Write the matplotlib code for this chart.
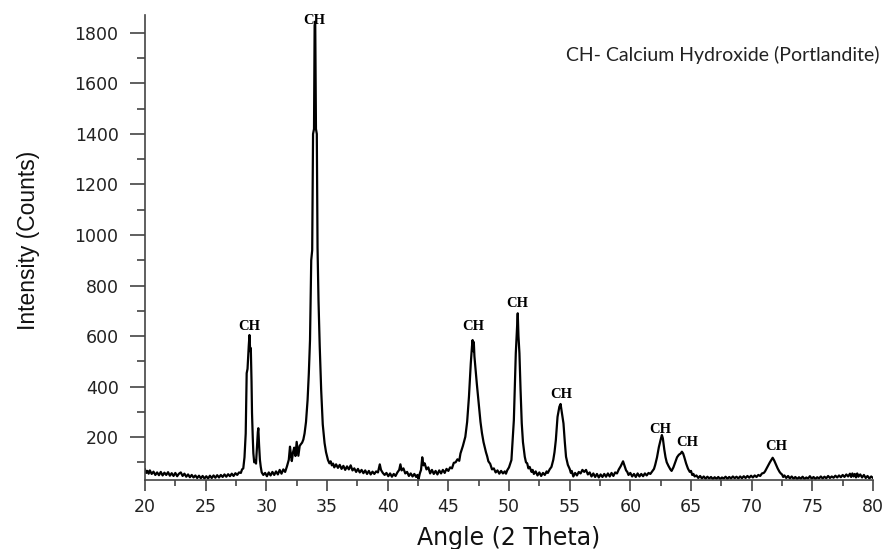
import matplotlib.pyplot as plt
from matplotlib.ticker import MultipleLocator
import numpy as np

plt.rcParams['font.family'] = ['DejaVu Sans']

# (2 theta, counts), region by region
bg_20_28 = [(20.0, 72), (20.1, 58), (20.2, 66), (20.3, 55), (20.4, 68), (20.55, 54), (20.7, 63),
            (20.85, 50), (21.0, 60), (21.15, 49), (21.3, 62), (21.45, 48), (21.6, 59), (21.75, 50),
            (21.9, 61), (22.05, 47), (22.2, 57), (22.35, 46), (22.5, 58), (22.65, 45), (22.8, 55),
            (22.95, 60), (23.1, 46), (23.25, 55), (23.4, 43), (23.55, 52), (23.7, 41), (23.85, 50),
            (24.0, 40), (24.15, 48), (24.3, 38), (24.45, 47), (24.6, 37), (24.75, 46), (24.9, 36),
            (25.05, 45), (25.2, 36), (25.35, 47), (25.5, 38), (25.65, 48), (25.8, 39), (25.95, 49),
            (26.1, 40), (26.25, 50), (26.4, 42), (26.55, 52), (26.7, 43), (26.85, 53), (27.0, 45),
            (27.15, 55), (27.3, 46), (27.45, 57), (27.6, 50), (27.75, 60), (27.9, 58), (28.0, 72)]
peak_29 = [(28.1, 76), (28.2, 120), (28.3, 214), (28.38, 453), (28.45, 470), (28.55, 560),
           (28.61, 604), (28.67, 540), (28.72, 552), (28.78, 420), (28.82, 295), (28.88, 200),
           (28.93, 136), (29.0, 100), (29.07, 109), (29.15, 95), (29.22, 150), (29.3, 220),
           (29.34, 235), (29.4, 170), (29.47, 110), (29.54, 82), (29.62, 60), (29.75, 50)]
bg_30_33 = [(29.9, 58), (30.05, 45), (30.2, 60), (30.35, 48), (30.5, 62), (30.65, 50), (30.8, 64),
            (30.95, 52), (31.1, 70), (31.25, 55), (31.4, 72), (31.55, 62), (31.7, 84), (31.85, 110),
            (31.95, 162), (32.05, 120), (32.1, 105), (32.2, 140), (32.3, 158), (32.4, 125),
            (32.5, 181), (32.58, 150), (32.64, 126), (32.75, 165), (32.85, 172), (32.95, 178),
            (33.05, 190)]
peak_34 = [(33.15, 214), (33.27, 260), (33.4, 347), (33.5, 450), (33.6, 584), (33.7, 900),
           (33.78, 940), (33.85, 1400), (33.93, 1420), (33.98, 1830), (34.03, 1845), (34.09, 1420),
           (34.16, 1400), (34.22, 950), (34.3, 740), (34.4, 560), (34.52, 386), (34.65, 250),
           (34.8, 176), (34.92, 140), (35.08, 109), (35.2, 96), (35.3, 104), (35.4, 88), (35.5, 95)]
bg_36_46 = [(35.6, 80), (35.75, 92), (35.9, 78), (36.05, 90), (36.2, 74), (36.35, 86), (36.5, 70),
            (36.65, 84), (36.8, 72), (36.95, 88), (37.1, 68), (37.25, 76), (37.4, 62), (37.55, 74),
            (37.7, 60), (37.85, 70), (38.0, 57), (38.15, 68), (38.3, 54), (38.45, 66), (38.6, 52),
            (38.75, 63), (38.9, 54), (39.05, 64), (39.2, 60), (39.35, 92), (39.45, 70), (39.6, 58),
            (39.75, 50), (39.9, 58), (40.05, 45), (40.2, 56), (40.35, 43), (40.5, 54), (40.65, 46),
            (40.8, 60), (40.95, 70), (41.05, 92), (41.15, 68), (41.3, 76), (41.45, 56), (41.6, 62),
            (41.75, 46), (41.9, 56), (42.05, 44), (42.2, 54), (42.35, 42), (42.45, 50), (42.55, 34),
            (42.65, 56), (42.75, 70), (42.85, 120), (42.95, 88), (43.05, 96), (43.2, 72), (43.35, 80),
            (43.5, 56), (43.65, 70), (43.8, 54), (43.95, 66), (44.1, 52), (44.25, 68), (44.4, 56),
            (44.55, 70), (44.7, 58), (44.85, 74), (45.0, 66), (45.15, 80), (45.3, 76), (45.45, 98),
            (45.6, 100), (45.75, 112), (45.9, 106)]
peak_47 = [(46.0, 135), (46.2, 165), (46.4, 201), (46.55, 260), (46.7, 360), (46.85, 492),
           (46.95, 560), (47.0, 584), (47.05, 540), (47.1, 576), (47.15, 520), (47.2, 492),
           (47.35, 410), (47.5, 334), (47.65, 260), (47.77, 216), (47.9, 180), (48.0, 160),
           (48.1, 140), (48.2, 124), (48.3, 104), (48.45, 94), (48.6, 72), (48.75, 76), (48.9, 60),
           (49.05, 68), (49.2, 55), (49.35, 66), (49.5, 56), (49.65, 64), (49.75, 55)]
peak_51 = [(49.85, 68), (50.0, 80), (50.2, 109), (50.4, 267), (50.56, 532), (50.65, 620),
           (50.72, 690), (50.78, 600), (50.86, 532), (50.95, 390), (51.05, 255), (51.15, 180),
           (51.3, 122), (51.4, 100), (51.5, 96), (51.6, 76), (51.7, 82), (51.86, 62), (51.95, 70),
           (52.05, 54), (52.2, 64), (52.35, 48), (52.5, 60), (52.65, 46), (52.8, 58), (52.95, 50),
           (53.1, 64), (53.2, 58)]
peak_54 = [(53.35, 72), (53.5, 82), (53.65, 110), (53.75, 140), (53.86, 188), (54.0, 280),
           (54.15, 320), (54.25, 331), (54.35, 300), (54.49, 254), (54.6, 180), (54.7, 122),
           (54.85, 90), (55.0, 74), (55.1, 58), (55.17, 66)]
bg_55_62 = [(55.3, 44), (55.45, 58), (55.6, 48), (55.75, 62), (55.9, 56), (56.05, 70), (56.2, 62),
            (56.35, 70), (56.5, 52), (56.65, 60), (56.8, 44), (56.95, 56), (57.1, 42), (57.25, 54),
            (57.4, 40), (57.55, 52), (57.7, 42), (57.85, 54), (58.0, 43), (58.15, 56), (58.3, 44),
            (58.45, 58), (58.6, 46), (58.75, 60), (58.9, 56), (59.05, 72), (59.2, 84), (59.4, 104),
            (59.55, 82), (59.65, 68), (59.75, 62), (59.85, 50), (60.0, 58), (60.15, 44), (60.3, 54),
            (60.45, 42), (60.6, 56), (60.75, 44), (60.9, 54), (61.05, 45), (61.2, 56), (61.35, 48),
            (61.5, 58), (61.65, 54), (61.8, 64), (61.95, 74)]
peaks_63_64 = [(62.05, 90), (62.2, 120), (62.35, 160), (62.5, 190), (62.6, 208), (62.68, 195),
               (62.8, 150), (62.9, 120), (63.0, 100), (63.15, 85), (63.3, 72), (63.4, 66),
               (63.55, 80), (63.7, 100), (63.85, 120), (64.0, 130), (64.15, 135), (64.25, 142),
               (64.35, 135), (64.45, 120), (64.6, 95), (64.75, 75), (64.9, 62), (65.0, 66),
               (65.1, 50), (65.2, 54), (65.3, 44), (65.45, 48)]
bg_66_71 = [(65.6, 38), (65.75, 46), (65.9, 36), (66.05, 44), (66.2, 35), (66.35, 43), (66.5, 36),
            (66.65, 42), (66.8, 34), (66.95, 41), (67.1, 35), (67.25, 42), (67.4, 34), (67.55, 40),
            (67.7, 36), (67.85, 43), (68.0, 35), (68.15, 42), (68.3, 36), (68.45, 44), (68.6, 37),
            (68.75, 43), (68.9, 36), (69.05, 44), (69.2, 37), (69.35, 45), (69.5, 38), (69.65, 46),
            (69.8, 39), (69.95, 47), (70.1, 40), (70.25, 48), (70.4, 42), (70.55, 50), (70.7, 46),
            (70.85, 56), (71.0, 58)]
peak_72 = [(71.1, 64), (71.3, 82), (71.5, 100), (71.65, 112), (71.73, 118), (71.85, 108),
           (72.0, 92), (72.15, 75), (72.3, 62), (72.4, 56), (72.5, 52), (72.6, 42), (72.7, 48)]
bg_73_80 = [(72.85, 38), (73.0, 46), (73.15, 36), (73.3, 44), (73.45, 35), (73.6, 42), (73.75, 34),
            (73.9, 41), (74.05, 35), (74.2, 43), (74.35, 34), (74.5, 40), (74.65, 36), (74.8, 45),
            (74.95, 35), (75.1, 42), (75.25, 34), (75.4, 41), (75.55, 36), (75.7, 44), (75.85, 36),
            (76.0, 43), (76.15, 37), (76.3, 46), (76.45, 38), (76.6, 44), (76.75, 39), (76.9, 47),
            (77.05, 40), (77.2, 48), (77.35, 41), (77.5, 50), (77.65, 42), (77.8, 52), (77.95, 44),
            (78.1, 55), (78.2, 42), (78.3, 56), (78.4, 44), (78.5, 54), (78.6, 40), (78.7, 56),
            (78.8, 43), (78.95, 52), (79.1, 40), (79.25, 50), (79.4, 38), (79.55, 46), (79.7, 36),
            (79.85, 44), (80.0, 38)]

# peak labels: (2 theta, counts) of label centre
ch_pos = [(28.6, 637), (33.95, 1849), (47.06, 637), (50.69, 729), (54.29, 369),
          (62.5, 228), (64.68, 177), (72.05, 162)]

segments = [bg_20_28, peak_29, bg_30_33, peak_34, bg_36_46, peak_47, peak_51, peak_54,
            bg_55_62, peaks_63_64, bg_66_71, peak_72, bg_73_80]
pts = np.array([p for seg in segments for p in seg])
two_theta, counts = pts[:, 0], pts[:, 1]

fig = plt.figure(figsize=(8.9, 5.49), dpi=100)
ax = fig.add_axes([145/890, 1-480/549, 728/890, 465/549])

ax.plot(two_theta, counts, color='black', lw=1.6)

ax.set_xlim(20, 80)
ax.set_ylim(30, 1871)
ax.xaxis.set_major_locator(MultipleLocator(5))
ax.xaxis.set_minor_locator(MultipleLocator(2.5))
ax.set_yticks(np.arange(200, 1801, 200))
ax.yaxis.set_minor_locator(MultipleLocator(100))

for s in ['top', 'right']:
    ax.spines[s].set_visible(False)
for s in ['left', 'bottom']:
    ax.spines[s].set_color('#444444')
    ax.spines[s].set_linewidth(1.2)

ax.tick_params(axis='y', which='major', length=11, width=1.2, color='#444444',
               labelsize=12.5, labelcolor='#222222', pad=8)
ax.tick_params(axis='y', which='minor', length=6, width=1.2, color='#444444')
ax.tick_params(axis='x', which='major', length=8, width=1.2, color='#444444',
               labelsize=12.5, labelcolor='#222222', pad=5)
ax.tick_params(axis='x', which='minor', length=4, width=1.2, color='#444444')

ax.set_xlabel('Angle (2 Theta)', fontsize=17, color='#111111', labelpad=7)
ax.set_ylabel('Intensity (Counts)', fontsize=16.5, color='#111111',
              family=['Liberation Sans', 'DejaVu Sans'])
ax.yaxis.set_label_coords((40 - 145) / 728, (480 - 240.5) / 465)

for x, y in ch_pos:
    ax.text(x, y, 'CH', ha='center', va='center', fontsize=10.5, fontweight='bold',
            family=['Liberation Serif', 'DejaVu Serif'])

fig.text(566/890, 1-55/549, 'CH- Calcium Hydroxide (Portlandite)', ha='left', va='center',
         fontsize=14, color='#222222', family=['Lato', 'DejaVu Sans'])

fig.savefig('out.png', dpi=100)
